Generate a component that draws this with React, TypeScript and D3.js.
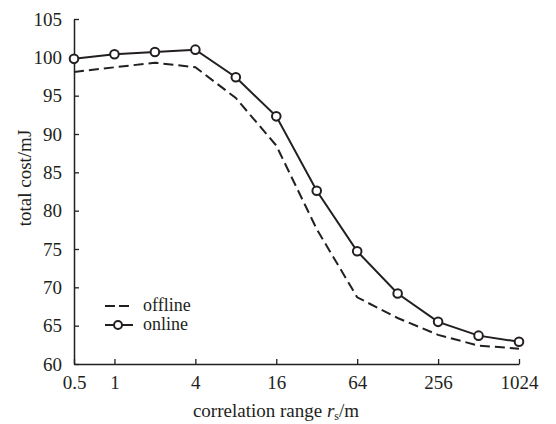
import React, { useEffect, useRef } from 'react';
import * as d3 from 'd3';

const ranges = [0.5, 1, 2, 4, 8, 16, 32, 64, 128, 256, 512, 1024];
const offline = [98.1, 98.7, 99.3, 98.7, 94.7, 88.5, 77.6, 68.7, 66.0, 63.8, 62.4, 62.0];
const online = [99.8, 100.4, 100.7, 101.0, 97.4, 92.3, 82.6, 74.7, 69.2, 65.5, 63.7, 62.9];
const xTicks = [0.5, 1, 4, 16, 64, 256, 1024];
const yTicks = [60, 65, 70, 75, 80, 85, 90, 95, 100, 105];

const App = () => {
  const svgRef = useRef<SVGSVGElement>(null);

  useEffect(() => {
    const width = 556, height = 424;
    const margin = { top: 19, right: 37, bottom: 60, left: 74 };
    const ink = '#231f20';
    const font = 'Liberation Serif, DejaVu Serif, serif';

    const svg = d3.select(svgRef.current);
    svg.selectAll('*').remove();
    svg.attr('width', width).attr('height', height)
      .attr('font-family', font);

    const x = d3.scaleLog().base(2)
      .domain([0.5, 1024])
      .range([margin.left, width - margin.right]);
    const y = d3.scaleLinear()
      .domain([60, 105])
      .range([height - margin.bottom, margin.top]);

    const xAxis = svg.append('g')
      .attr('transform', `translate(0,${height - margin.bottom})`)
      .call(d3.axisBottom(x).tickValues(xTicks).tickFormat(d => String(d)).tickSizeInner(-5).tickSizeOuter(0).tickPadding(12));
    const yAxis = svg.append('g')
      .attr('transform', `translate(${margin.left},0)`)
      .call(d3.axisLeft(y).tickValues(yTicks).tickSizeInner(-5).tickSizeOuter(0).tickPadding(12));

    [xAxis, yAxis].forEach(g => {
      g.attr('font-family', font).attr('font-size', 19);
      g.select('.domain').attr('stroke', ink).attr('stroke-width', 1.5);
      g.selectAll('.tick line').attr('stroke', ink).attr('stroke-width', 1.3);
      g.selectAll('.tick text').attr('fill', ink);
    });

    const line = d3.line<number>()
      .x((_, i) => x(ranges[i]))
      .y(d => y(d));

    svg.append('path')
      .datum(offline)
      .attr('d', line)
      .attr('fill', 'none')
      .attr('stroke', ink)
      .attr('stroke-width', 2)
      .attr('stroke-dasharray', '10,5');

    svg.append('path')
      .datum(online)
      .attr('d', line)
      .attr('fill', 'none')
      .attr('stroke', ink)
      .attr('stroke-width', 2);

    svg.append('g')
      .selectAll('circle')
      .data(online)
      .join('circle')
      .attr('cx', (_, i) => x(ranges[i]))
      .attr('cy', d => y(d))
      .attr('r', 4.3)
      .attr('fill', '#fff')
      .attr('stroke', ink)
      .attr('stroke-width', 2);

    // legend
    const lg = svg.append('g').attr('transform', 'translate(105,306)');
    lg.append('line').attr('x1', 0).attr('x2', 28).attr('y1', 0).attr('y2', 0)
      .attr('stroke', ink).attr('stroke-width', 2).attr('stroke-dasharray', '10,4');
    lg.append('line').attr('x1', 0).attr('x2', 28).attr('y1', 19).attr('y2', 19)
      .attr('stroke', ink).attr('stroke-width', 2);
    lg.append('circle').attr('cx', 13).attr('cy', 19).attr('r', 4)
      .attr('fill', '#fff').attr('stroke', ink).attr('stroke-width', 2);
    lg.selectAll('text.lab')
      .data(['offline', 'online'])
      .join('text')
      .attr('x', 38)
      .attr('y', (_, i) => i * 19 + 5)
      .attr('fill', ink)
      .attr('font-size', 18)
      .text(d => d);

    // axis titles
    const xt = svg.append('text')
      .attr('x', 276)
      .attr('y', 417)
      .attr('text-anchor', 'middle')
      .attr('fill', ink)
      .attr('font-size', 19);
    xt.append('tspan').text('correlation range ');
    xt.append('tspan').attr('font-style', 'italic').text('r');
    xt.append('tspan').attr('font-size', 12).attr('dy', 3).text('s');
    xt.append('tspan').attr('dy', -3).text('/m');

    svg.append('text')
      .attr('transform', 'translate(31,178) rotate(-90)')
      .attr('text-anchor', 'middle')
      .attr('fill', ink)
      .attr('font-size', 19)
      .text('total cost/mJ');
  }, []);

  return <svg ref={svgRef} style={{ display: 'block', position: 'absolute', left: 0, top: 0 }}></svg>;
};

export default App;
